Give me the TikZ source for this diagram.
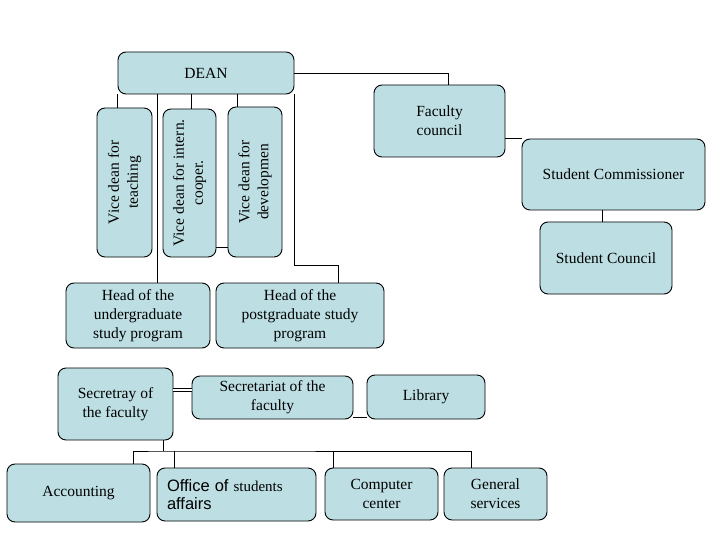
\documentclass[tikz,border=0pt]{standalone}
\usepackage{fontspec}
\setmainfont{Liberation Serif}
\newfontfamily\arialfont{Liberation Sans}
\usepackage{graphicx}
\definecolor{cteal}{HTML}{BDDFE3}
\tikzset{
  every picture/.style={line width=0.9pt},
  box/.style={draw=black, fill=cteal, rounded corners=8pt, align=center, inner sep=0pt, font=\fontsize{15.5}{19}\selectfont},
  link/.style={draw=black, line width=0.9pt},
}
\newcommand{\vlabel}[2]{\rotatebox{90}{\begin{tabular}{@{}c@{}}#1\\#2\end{tabular}}}

\begin{document}
\begin{tikzpicture}[x=1pt, y=-1pt]
  \useasboundingbox (0,0) rectangle (720,540);
  \node[box, minimum width=176pt, minimum height=42pt] (dean) at (206,73) {DEAN};
  \node[box, minimum width=55pt, minimum height=149pt] (teach) at (124.5,182.5) {\vlabel{Vice dean for}{teaching}};
  \node[box, minimum width=53pt, minimum height=148pt] (intern) at (189.5,183) {\vlabel{Vice dean for intern.}{cooper.}};
  \node[box, minimum width=54pt, minimum height=150pt] (devel) at (255,182) {\vlabel{Vice dean for}{developmen}};
  \node[box, minimum width=131pt, minimum height=72pt] (council) at (439.5,121) {Faculty\\council};
  \node[box, minimum width=183pt, minimum height=71pt] (commis) at (613.5,174.5) {Student Commissioner};
  \node[box, minimum width=132pt, minimum height=72pt] (stcouncil) at (606,258) {Student Council};
  \node[box, minimum width=144pt, minimum height=65pt] (under) at (138,315.5) {Head of the\\undergraduate\\study program};
  \node[box, minimum width=168pt, minimum height=65pt] (post) at (300,315.5) {Head of the\\postgraduate study\\program};
  \node[box, minimum width=115pt, minimum height=72pt] (secr) at (115.5,404) {Secretray of\\the faculty};
  \node[box, minimum width=161pt, minimum height=43pt] (secret) at (272.5,397.5) {Secretariat of the\\faculty};
  \node[box, minimum width=118pt, minimum height=44pt] (library) at (426,397) {Library};
  \node[box, minimum width=143pt, minimum height=58pt] (acc) at (78.5,493) {Accounting};
  \node[box, minimum width=159pt, minimum height=53pt, text width=139pt, align=left, font=\fontsize{15}{18}\selectfont] (office) at (236.5,494.5) {{\arialfont\fontsize{16.5}{18}\selectfont Office of} students\\{\arialfont\fontsize{16.5}{18}\selectfont affairs}};
  \node[box, minimum width=113pt, minimum height=52pt] (comp) at (381.5,494) {Computer\\center};
  \node[box, minimum width=103pt, minimum height=52pt] (gen) at (495.5,494) {General\\services};

  \draw[link] (dean.south west) -- (dean.south west |- teach.north);
  \draw[link] ([xshift=1.5pt]intern.north) -- ([xshift=1.5pt]intern.north |- dean.south);
  \draw[link] ([xshift=-18pt]devel.north) -- ([xshift=-18pt]devel.north |- dean.south);
  \draw[link] ([xshift=19pt]under.north) -- ([xshift=19pt]under.north |- dean.south);
  \draw[link] ([yshift=-64pt]intern.east) -- ([yshift=-64pt]intern.east -| devel.west);
  \draw[link] (dean.east) -| ([xshift=9pt]council.north);
  \draw[link] (dean.south east) |- ([xshift=38pt,yshift=17pt]post.north) -- ([xshift=38pt]post.north);
  \draw[link] ([yshift=-17pt]council.east) -- ([yshift=-17pt]council.east -| commis.west);
  \draw[link] ([xshift=-4pt]stcouncil.north) -- ([xshift=-4pt]stcouncil.north |- commis.south);
  \draw[link, line width=0.8pt, double=white, double distance=2.6pt] ([yshift=14pt]secr.east) -- ([yshift=14pt]secr.east -| secret.west);
  \draw[link] ([yshift=-19.5pt]secret.east) -- ([yshift=-19.5pt]secret.east -| library.west);
  \coordinate (bus) at (163,451);
  \draw[link] ([xshift=47.5pt]secr.south) -- (bus);
  \draw[link] ([xshift=54.5pt]acc.north) |- (bus) -| ([xshift=-24.5pt]gen.north);
  \draw[link] ([xshift=-62.5pt]office.north) -- ([xshift=-62.5pt]office.north |- bus);
  \draw[link] ([xshift=-48.5pt]comp.north) -- ([xshift=-48.5pt]comp.north |- bus);
\end{tikzpicture}
\end{document}
